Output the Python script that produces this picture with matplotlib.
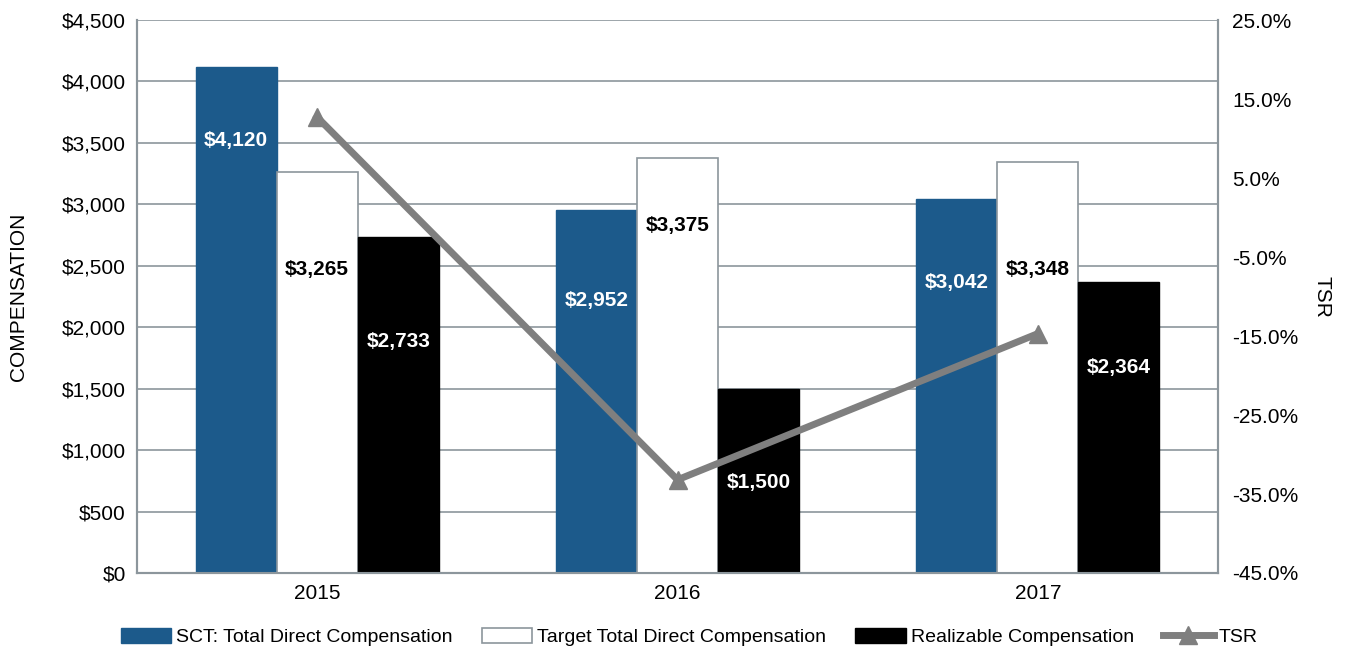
import matplotlib
matplotlib.use("Agg")
import matplotlib.pyplot as plt
import numpy as np

plt.rcParams['font.family'] = ['Liberation Sans', 'DejaVu Sans']

years = ["2015", "2016", "2017"]
sct = [4120, 2952, 3042]
target = [3265, 3375, 3348]
realizable = [2733, 1500, 2364]
tsr = [12.7, -33.2, -14.7]

# where the value labels sit (data units on the left axis)
sct_lab_y = [3523, 2221, 2360]
target_lab_y = [2466, 2824, 2466]
real_lab_y = [1880, 740, 1676]

blue = "#1c5a8b"
gray = "#7f7f7f"
axc = "#8c969c"

fig = plt.figure(figsize=(13.56, 6.53), dpi=100)
ax = fig.add_axes([137/1356, 80/653, 1081/1356, 553/653])
ax2 = ax.twinx()

x = np.arange(len(years))
w = 0.225
b1 = ax.bar(x - w, sct, w, color=blue, edgecolor=blue, label="SCT: Total Direct Compensation", zorder=3)
b2 = ax.bar(x, target, w, color="white", edgecolor=axc, linewidth=1.2, label="Target Total Direct Compensation", zorder=3)
b3 = ax.bar(x + w, realizable, w, color="black", edgecolor="black", label="Realizable Compensation", zorder=3)

for i in range(len(years)):
    ax.text(x[i] - w, sct_lab_y[i], f"${sct[i]:,}", color="white", fontsize=15, fontweight="bold",
            ha="center", va="center", zorder=5)
    ax.text(x[i], target_lab_y[i], f"${target[i]:,}", color="black", fontsize=15, fontweight="bold",
            ha="center", va="center", zorder=5)
    ax.text(x[i] + w, real_lab_y[i], f"${realizable[i]:,}", color="white", fontsize=15, fontweight="bold",
            ha="center", va="center", zorder=5)

ln, = ax2.plot(x, tsr, color=gray, linewidth=5, marker="^", markersize=13, label="TSR", zorder=6)

ax.set_xlim(-0.5, 2.5)
ax.set_ylim(0, 4500)
ax.set_yticks(np.arange(0, 4501, 500))
ax.set_yticklabels([f"${v:,}" for v in range(0, 4501, 500)], fontsize=15)
ax.set_xticks(x)
ax.set_xticklabels(years, fontsize=15)
ax.tick_params(axis="x", length=0, pad=8)
ax.tick_params(axis="y", length=0, pad=8)
ax.grid(axis="y", color=axc, linewidth=1.2, zorder=0)
ax.set_axisbelow(True)
ax.set_ylabel("COMPENSATION", fontsize=15, labelpad=24)

ax2.set_ylim(-45, 25)
ax2.set_yticks(np.arange(-45, 26, 10))
ax2.set_yticklabels([f"{v:.1f}%" for v in np.arange(-45, 26, 10)], fontsize=15)
ax2.tick_params(axis="y", length=0, pad=10)
ax2.set_ylabel("TSR", fontsize=15, rotation=270, labelpad=24)

for a in (ax, ax2):
    for s in a.spines.values():
        s.set_color(axc)
        s.set_linewidth(1.5)
ax.spines["top"].set_visible(False)
ax2.spines["top"].set_visible(False)

fig.legend([b1, b2, b3, ln], [b1.get_label(), b2.get_label(), b3.get_label(), "TSR"],
           loc="center", bbox_to_anchor=(689/1356, 16/653), ncol=4, frameon=False, fontsize=14,
           handlelength=2.6, handleheight=0.8, columnspacing=1.5, handletextpad=0.25)

fig.savefig("out.png", dpi=100)
